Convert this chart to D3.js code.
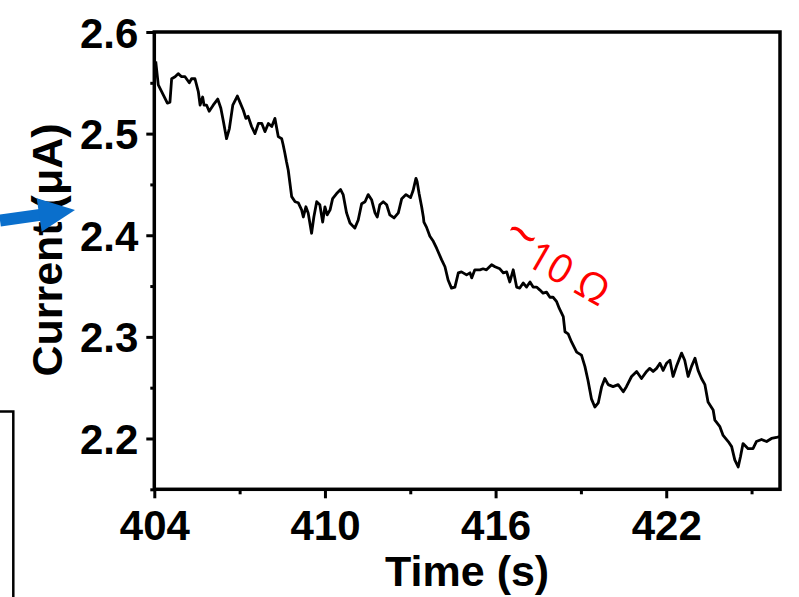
<!DOCTYPE html>
<html>
<head>
<meta charset="utf-8">
<script src="https://cdn.jsdelivr.net/npm/d3@7"></script>
<style>
  body { margin: 0; background: #fff; }
  svg { display: block; }
</style>
</head>
<body>
<div id="chart"></div>
<script>
// time (s)
const time = [404.05,404.14,404.32,404.46,404.55,404.61,404.73,404.84,404.96,405.08,
  405.23,405.31,405.43,405.55,405.61,405.70,405.75,405.84,405.93,406.07,
  406.23,406.34,406.43,406.54,406.64,406.76,406.92,407.01,407.13,407.22,
  407.30,407.42,407.54,407.66,407.78,407.89,408.01,408.13,408.24,408.36,
  408.48,408.53,408.59,408.65,408.71,408.83,408.95,409.06,409.18,409.24,
  409.33,409.41,409.53,409.61,409.71,409.82,409.92,410.00,410.08,410.18,
  410.27,410.41,410.55,410.64,410.76,410.88,411.05,411.17,411.29,411.41,
  411.52,411.64,411.76,411.84,411.93,412.05,412.17,412.28,412.43,412.58,
  412.70,412.85,413.01,413.10,413.20,413.24,413.31,413.40,413.46,413.48,
  413.57,413.69,413.81,413.93,414.10,414.22,414.33,414.45,414.57,414.69,
  414.80,414.98,415.10,415.16,415.27,415.45,415.56,415.68,415.86,415.98,
  416.15,416.27,416.39,416.50,416.62,416.74,416.85,416.97,417.09,417.21,
  417.32,417.44,417.56,417.67,417.79,417.91,418.02,418.14,418.24,418.38,
  418.44,418.55,418.67,418.85,419.02,419.14,419.25,419.37,419.49,419.61,
  419.73,419.84,419.96,420.13,420.31,420.49,420.60,420.78,420.96,421.13,
  421.31,421.42,421.54,421.66,421.78,421.89,422.01,422.13,422.24,422.36,
  422.54,422.65,422.77,422.89,423.01,423.12,423.24,423.36,423.47,423.65,
  423.71,423.88,424.00,424.18,424.30,424.41,424.53,424.61,424.70,424.88,
  425.05,425.17,425.35,425.53,425.70,425.88,426.00];

// current (uA)
const current = [2.571,2.548,2.538,2.530,2.531,2.554,2.556,2.559,2.556,2.556,
  2.550,2.554,2.554,2.541,2.528,2.536,2.528,2.528,2.522,2.528,
  2.534,2.525,2.512,2.495,2.505,2.528,2.537,2.531,2.523,2.515,
  2.517,2.507,2.500,2.510,2.510,2.502,2.510,2.507,2.515,2.497,
  2.495,2.489,2.481,2.472,2.464,2.438,2.433,2.432,2.425,2.418,
  2.428,2.422,2.402,2.418,2.433,2.430,2.413,2.428,2.420,2.425,
  2.436,2.441,2.445,2.440,2.422,2.412,2.407,2.415,2.431,2.433,
  2.440,2.435,2.422,2.418,2.430,2.433,2.430,2.420,2.417,2.422,
  2.436,2.440,2.437,2.444,2.456,2.453,2.441,2.428,2.418,2.413,
  2.408,2.399,2.394,2.387,2.376,2.369,2.356,2.348,2.349,2.363,
  2.364,2.361,2.363,2.358,2.366,2.366,2.367,2.366,2.371,2.369,
  2.367,2.363,2.364,2.354,2.366,2.349,2.348,2.353,2.349,2.354,
  2.349,2.349,2.346,2.343,2.344,2.339,2.339,2.335,2.328,2.320,
  2.305,2.303,2.295,2.285,2.282,2.271,2.257,2.239,2.231,2.235,
  2.251,2.259,2.253,2.251,2.253,2.246,2.251,2.261,2.266,2.259,
  2.266,2.269,2.266,2.269,2.274,2.267,2.274,2.277,2.261,2.271,
  2.284,2.277,2.261,2.271,2.279,2.267,2.259,2.253,2.236,2.228,
  2.218,2.212,2.203,2.197,2.192,2.179,2.172,2.182,2.195,2.190,
  2.190,2.197,2.199,2.197,2.200,2.201,2.202];

const xMajor = [404, 410, 416, 422];
const xMinor = [407, 413, 419, 425];
const yMajor = [2.2, 2.3, 2.4, 2.5, 2.6];
const yMinor = [2.15, 2.25, 2.35, 2.45, 2.55];

const W = 799, H = 597;
const pL = 154.3, pR = 780, pT = 32, pB = 489.3;
const font = "'Liberation Sans', Arial, sans-serif";

const svg = d3.select('#chart')
  .append('svg')
  .attr('width', W)
  .attr('height', H)

svg.append('rect')
  .attr('width', W)
  .attr('height', H)
  .style('fill', '#fff')

const x = d3.scaleLinear().domain([404, 426]).range([pL, pR])
const y = d3.scaleLinear().domain([2.15, 2.6]).range([pB, pT])

const pts = time.map((t, i) => [t, current[i]])

// bits of the neighbouring figure panel
svg.append('path')
  .attr('d', 'M0,411.5 H13.3 V597')
  .attr('fill', 'none')
  .attr('stroke', '#000')
  .attr('stroke-width', 2.5)

// x axis
const gx = svg.append('g')
  .attr('transform', `translate(0,${pB})`)
  .call(d3.axisBottom(x).tickValues(xMajor).tickSize(9).tickFormat(d3.format('d')))
gx.select('.domain').remove()
gx.selectAll('line').attr('stroke-width', 3)
gx.selectAll('text')
  .attr('y', 50.7).attr('dy', 0)
  .style('font-family', font).style('font-weight', 'bold').style('font-size', '42px')
  .attr('fill', '#000')

const gxm = svg.append('g')
  .attr('transform', `translate(0,${pB})`)
  .call(d3.axisBottom(x).tickValues(xMinor).tickSize(5).tickFormat(''))
gxm.select('.domain').remove()
gxm.selectAll('line').attr('stroke-width', 3)

// y axis
const gy = svg.append('g')
  .attr('transform', `translate(${pL},0)`)
  .call(d3.axisLeft(y).tickValues(yMajor).tickSize(8).tickPadding(8).tickFormat(d3.format('.1f')))
gy.select('.domain').remove()
gy.selectAll('line').attr('stroke-width', 3)
gy.selectAll('text')
  .attr('dy', '0.36em')
  .style('font-family', font).style('font-weight', 'bold').style('font-size', '42px')
  .attr('fill', '#000')

const gym = svg.append('g')
  .attr('transform', `translate(${pL},0)`)
  .call(d3.axisLeft(y).tickValues(yMinor).tickSize(4).tickFormat(''))
gym.select('.domain').remove()
gym.selectAll('line').attr('stroke-width', 3)

// trace
svg.append('path')
  .datum(pts)
  .attr('fill', 'none')
  .attr('stroke', '#000')
  .attr('stroke-width', 2.8)
  .attr('stroke-linejoin', 'round')
  .attr('d', d3.line().x(d => x(d[0])).y(d => y(d[1])))

// frame
svg.append('rect')
  .attr('x', pL).attr('y', pT)
  .attr('width', pR - pL).attr('height', pB - pT)
  .attr('fill', 'none')
  .attr('stroke', '#000')
  .attr('stroke-width', 3.5)

// axis titles
svg.append('text')
  .attr('x', (pL + pR) / 2).attr('y', 586)
  .attr('text-anchor', 'middle')
  .style('font-family', font).style('font-weight', 'bold').style('font-size', '43px')
  .text('Time (s)')

svg.append('text')
  .attr('transform', 'translate(62,250) rotate(-90)')
  .attr('text-anchor', 'middle')
  .style('font-family', font).style('font-weight', 'bold').style('font-size', '43px')
  .text('Current (μA)')

// annotation
const note = svg.append('text')
  .attr('transform', 'translate(502,251) rotate(30)')
  .attr('fill', '#ff0000')
  .style('font-family', "'Open Sans', sans-serif")
  .style('font-size', '40px')
note.append('tspan').attr('dx', -6).attr('dy', -6).style('font-size', '54px').text('~')
note.append('tspan').attr('dx', 0).attr('dy', 6).text('10 Ω')

// blue arrow
svg.append('line')
  .attr('x1', 0).attr('y1', 220.5)
  .attr('x2', 42).attr('y2', 214.6)
  .attr('stroke', '#0a6fcc')
  .attr('stroke-width', 12)
svg.append('path')
  .attr('d', 'M36.7,198.3 L75,210 L41.7,231.7 Z')
  .attr('fill', '#0a6fcc')
</script>
</body>
</html>
